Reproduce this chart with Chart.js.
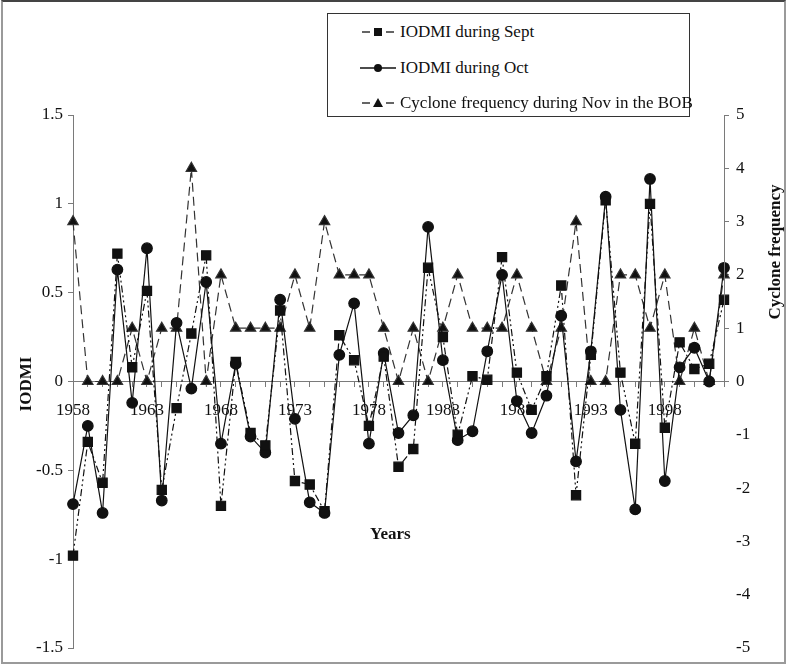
<!DOCTYPE html>
<html>
<head>
<meta charset="utf-8">
<script src="https://cdn.jsdelivr.net/npm/chart.js@4.4.0/dist/chart.umd.min.js"></script>
<style>
  body { margin: 0; background: #fff; }
  #wrap { position: relative; width: 789px; height: 669px; font-family: 'Liberation Serif', 'Times New Roman', serif; color: #111; }
  #frame { position: absolute; left: 1px; top: 0; width: 785px; height: 664px; border: 2px solid #9a9a9a; border-top-color: #444; box-sizing: border-box; pointer-events: none; }
  canvas { position: absolute; left: 0; top: 0; }
  #legend { position: absolute; left: 327px; top: 13px; width: 363px; height: 104px; border: 1.5px solid #333; box-sizing: border-box; background: #fff; }
  .row { position: absolute; left: 0; height: 20px; font-size: 17px; line-height: 20px; white-space: nowrap; }
  .row svg { position: absolute; left: 30px; top: 2px; }
  .row span { position: absolute; left: 72px; top: 0; }
  .title { position: absolute; font-weight: bold; font-size: 17px; white-space: nowrap; }
</style>
</head>
<body>
<div id="wrap">
  <canvas id="chart" width="789" height="669"></canvas>
  <div id="legend">
    <div class="row" style="top:8px">
      <svg width="40" height="16"><line x1="4" y1="8" x2="12" y2="8" stroke="#111" stroke-width="1.3"/><line x1="28" y1="8" x2="36" y2="8" stroke="#111" stroke-width="1.3"/><rect x="16" y="4" width="8" height="8" fill="#111"/></svg>
      <span>IODMI during Sept</span>
    </div>
    <div class="row" style="top:44px">
      <svg width="40" height="16"><line x1="2" y1="8" x2="38" y2="8" stroke="#111" stroke-width="1.3"/><circle cx="20" cy="8" r="4" fill="#111"/></svg>
      <span>IODMI during Oct</span>
    </div>
    <div class="row" style="top:79px">
      <svg width="40" height="16"><line x1="4" y1="8" x2="12" y2="8" stroke="#111" stroke-width="1.3"/><line x1="28" y1="8" x2="36" y2="8" stroke="#111" stroke-width="1.3"/><polygon points="20,3 25,12 15,12" fill="#111"/></svg>
      <span>Cyclone frequency during Nov in the BOB</span>
    </div>
  </div>
  <div class="title" style="left:-2px; top:374px; transform:rotate(-90deg); transform-origin:center; width:56px; text-align:center;">IODMI</div>
  <div class="title" style="left:700px; top:242px; transform:rotate(-90deg); transform-origin:center; width:150px; text-align:center;">Cyclone frequency</div>
  <div class="title" style="left:370px; top:524px;">Years</div>
  <div id="frame"></div>
</div>
<script>
const years = [1958, 1959, 1960, 1961, 1962, 1963, 1964, 1965, 1966, 1967, 1968, 1969, 1970, 1971, 1972,
  1973, 1974, 1975, 1976, 1977, 1978, 1979, 1980, 1981, 1982, 1983, 1984, 1985, 1986, 1987,
  1988, 1989, 1990, 1991, 1992, 1993, 1994, 1995, 1996, 1997, 1998, 1999, 2000, 2001, 2002];

// IODMI during September
const iodmiSept = [-0.98, -0.34, -0.57, 0.72, 0.08, 0.51, -0.61, -0.15, 0.27, 0.71, -0.70, 0.11, -0.29, -0.36, 0.40,
  -0.56, -0.58, -0.73, 0.26, 0.12, -0.25, 0.14, -0.48, -0.38, 0.64, 0.25, -0.30, 0.03, 0.01, 0.70,
  0.05, -0.16, 0.03, 0.54, -0.64, 0.15, 1.02, 0.05, -0.35, 1.00, -0.26, 0.22, 0.07, 0.10, 0.46];

// IODMI during October
const iodmiOct = [-0.69, -0.25, -0.74, 0.63, -0.12, 0.75, -0.67, 0.33, -0.04, 0.56, -0.35, 0.10, -0.31, -0.40, 0.46,
  -0.21, -0.68, -0.74, 0.15, 0.44, -0.35, 0.16, -0.29, -0.19, 0.87, 0.12, -0.33, -0.28, 0.17, 0.60,
  -0.11, -0.29, -0.08, 0.37, -0.45, 0.17, 1.04, -0.16, -0.72, 1.14, -0.56, 0.08, 0.19, 0.00, 0.64];

// cyclone frequency during November in the Bay of Bengal
const cycloneNov = [3, 0, 0, 0, 1, 0, 1, 1, 4, 0, 2, 1, 1, 1, 1, 2, 1, 3, 2, 2, 2, 1, 0, 1, 0, 1, 2, 1, 1, 1,
  2, 1, 0, 1, 3, 0, 0, 2, 2, 1, 2, 0, 1, 0, 2];

const leftTicks = [-1.5, -1, -0.5, 0, 0.5, 1, 1.5];
const rightTicks = [-5, -4, -3, -2, -1, 0, 1, 2, 3, 4, 5];

const axisColor = '#7a7a7a';
const tickFont = { family: "'Liberation Serif', 'Times New Roman', serif", size: 17 };

// right axis line only runs from 0 up to 5
const rightAxisLine = {
  id: 'rightAxisLine',
  afterDraw(chart) {
    const s = chart.scales.y1;
    const { ctx } = chart;
    ctx.save();
    ctx.strokeStyle = axisColor;
    ctx.lineWidth = 1;
    ctx.beginPath();
    ctx.moveTo(s.left + 0.5, s.getPixelForValue(0));
    ctx.lineTo(s.left + 0.5, s.getPixelForValue(5));
    ctx.stroke();
    ctx.restore();
  },
};

new Chart(document.getElementById('chart'), {
  type: 'line',
  data: {
    labels: years,
    datasets: [
      {
        label: 'IODMI during Sept',
        data: iodmiSept,
        yAxisID: 'y',
        borderColor: '#111',
        backgroundColor: '#111',
        borderWidth: 1.2,
        borderDash: [7, 3, 2, 3, 2, 3],
        pointStyle: 'rect',
        pointRadius: 6.5,
        tension: 0,
      },
      {
        label: 'IODMI during Oct',
        data: iodmiOct,
        yAxisID: 'y',
        borderColor: '#111',
        backgroundColor: '#111',
        borderWidth: 1.2,
        pointStyle: 'circle',
        pointRadius: 5.3,
        tension: 0,
      },
      {
        label: 'Cyclone frequency during Nov in the BOB',
        data: cycloneNov,
        yAxisID: 'y1',
        borderColor: '#333',
        backgroundColor: '#111',
        borderWidth: 1.2,
        borderDash: [9, 5],
        pointStyle: 'triangle',
        pointRadius: 6,
        tension: 0,
      },
    ],
  },
  options: {
    responsive: false,
    animation: false,
    layout: { padding: { top: 115, bottom: 21, left: 0, right: 0 } },
    plugins: { legend: { display: false }, tooltip: { enabled: false } },
    scales: {
      x: {
        type: 'category',
        position: { y: 0 },
        offset: false,
        grid: { display: true, drawOnChartArea: false, drawTicks: true, tickLength: 5, color: axisColor },
        border: { display: true, color: axisColor },
        ticks: {
          autoSkip: false,
          maxRotation: 0,
          padding: 14,
          color: '#111',
          font: tickFont,
          callback: (v, i) => (i % 5 === 0 ? String(years[i]) : ''),
        },
      },
      y: {
        position: 'left',
        min: leftTicks[0],
        max: leftTicks[leftTicks.length - 1],
        afterBuildTicks: (s) => { s.ticks = leftTicks.map((v) => ({ value: v })); },
        afterFit: (s) => { s.width = 73; },
        grid: { display: true, drawOnChartArea: false, tickLength: 5, color: axisColor },
        border: { display: true, color: axisColor },
        ticks: { color: '#111', font: tickFont, padding: 5, callback: (v) => String(v) },
      },
      y1: {
        position: 'right',
        min: rightTicks[0],
        max: rightTicks[rightTicks.length - 1],
        afterBuildTicks: (s) => { s.ticks = rightTicks.map((v) => ({ value: v })); },
        afterFit: (s) => { s.width = 65; },
        grid: {
          display: true,
          drawOnChartArea: false,
          tickLength: 5,
          color: (c) => (c.tick && c.tick.value >= 0 ? axisColor : 'rgba(0,0,0,0)'),
        },
        border: { display: false },
        ticks: { color: '#111', font: tickFont, padding: 7, callback: (v) => String(v) },
      },
    },
  },
  plugins: [rightAxisLine],
});
</script>
</body>
</html>
